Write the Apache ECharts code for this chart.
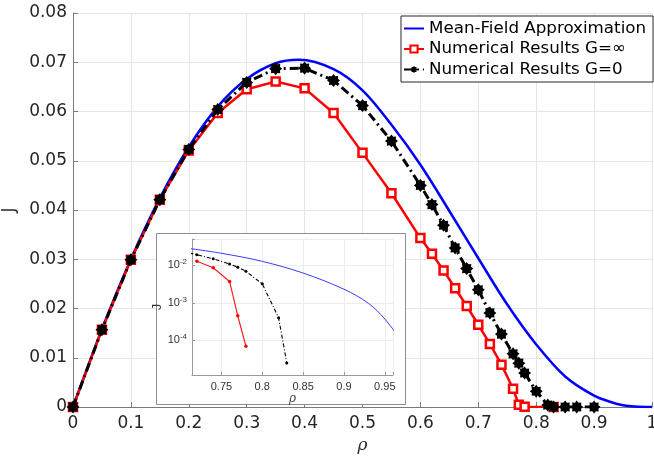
<!DOCTYPE html>
<html>
<head>
<meta charset="utf-8">
<script src="https://cdn.jsdelivr.net/npm/echarts@6/dist/echarts.min.js"></script>
<style>html,body{margin:0;padding:0;background:#fff}#c{width:654px;height:461px}</style>
</head>
<body>
<div id="c"></div>
<script>
// Mean-field approximation
const rhoMF = [0, 0.05, 0.1, 0.15, 0.2, 0.25, 0.3, 0.35, 0.39, 0.45, 0.5, 0.55, 0.6, 0.65, 0.7, 0.75, 0.8, 0.85, 0.9, 0.93, 0.95, 0.97, 1.0];
const jMF   = [0, 0.0158, 0.0300, 0.0424, 0.0528, 0.0610, 0.0666, 0.0698, 0.0705, 0.0686, 0.0643, 0.0573, 0.0492, 0.0398, 0.0302, 0.0208, 0.0127, 0.0062, 0.0023, 0.00097, 0.00037, 0.00010, 0];
// Numerical results G = infinity
const rhoInf = [0, 0.05, 0.1, 0.15, 0.2, 0.25, 0.3, 0.35, 0.4, 0.45, 0.5, 0.55, 0.6, 0.62, 0.64, 0.66, 0.68, 0.7, 0.72, 0.74, 0.76, 0.77, 0.78, 0.83];
const jInf   = [0, 0.0157, 0.0299, 0.0421, 0.0521, 0.0597, 0.0645, 0.0661, 0.0647, 0.0597, 0.0516, 0.0434, 0.0343, 0.0311, 0.0277, 0.0241, 0.0205, 0.0167, 0.0128, 0.0086, 0.0037, 0.00045, 0.00007, 0];
// Numerical results G = 0
const rhoG0 = [0, 0.05, 0.1, 0.15, 0.2, 0.25, 0.3, 0.35, 0.4, 0.45, 0.5, 0.55, 0.6, 0.62, 0.64, 0.66, 0.68, 0.7, 0.72, 0.74, 0.76, 0.77, 0.78, 0.8, 0.82, 0.83, 0.85, 0.87, 0.9];
const jG0   = [0, 0.0157, 0.0299, 0.0421, 0.0523, 0.0604, 0.0659, 0.0687, 0.0688, 0.0663, 0.0612, 0.0540, 0.0450, 0.0411, 0.0369, 0.0323, 0.0281, 0.0238, 0.0191, 0.0148, 0.0108, 0.0089, 0.0069, 0.0032, 0.0004, 0.000025, 0, 0, 0];

const names = ['Mean-Field Approximation', 'Numerical Results G=\u221e', 'Numerical Results G=0'];
const insetRhoMin = 0.714, insetRhoMax = 0.96;

function pairs(xs, ys) { return xs.map((x, i) => [x, ys[i]]); }
function posPairs(xs, ys) { return pairs(xs, ys).filter(p => p[1] > 0 && p[0] >= 0.7); }

function starPath(n, rIn) {
  let d = '';
  for (let i = 0; i < 2 * n; i++) {
    const r = i % 2 ? rIn : 1;
    const a = Math.PI * i / n - Math.PI / 2;
    d += (i ? 'L' : 'M') + (50 + 50 * r * Math.cos(a)).toFixed(2) + ' ' + (50 + 50 * r * Math.sin(a)).toFixed(2);
  }
  return 'path://' + d + 'Z';
}
const star = starPath(8, 0.72);

const tickColor = '#262626';
const axisGray = '#7a7a7a';
const gridGray = '#e6e6e6';
const mainFont = 'DejaVu Sans';
const insetFont = 'Liberation Sans';

const chart = echarts.init(document.getElementById('c'), null, {renderer: 'canvas'});
chart.setOption({
  animation: false,
  backgroundColor: '#fff',
  grid: [
    {left: 73, top: 13, width: 579, height: 394, containLabel: false, outerBoundsMode: 'none'},
    {left: 192, top: 239, width: 201, height: 136, z: 12, containLabel: false, outerBoundsMode: 'none'}
  ],
  legend: {
    data: [{name: names[0], itemStyle: {opacity: 0}}, {name: names[1]}, {name: names[2]}],
    orient: 'vertical',
    left: 401, top: 16,
    padding: [3, 7, 3, 2],
    itemWidth: 20, itemHeight: 9, itemGap: 1.5,
    backgroundColor: '#fff',
    borderColor: '#262626', borderWidth: 1, borderRadius: 0,
    textStyle: {fontFamily: mainFont, fontSize: 16.7, color: '#000', lineHeight: 19},
    z: 30
  },
  graphic: [{
    type: 'rect', z: 10, zlevel: 0,
    shape: {x: 156.5, y: 233.5, width: 249, height: 171},
    style: {fill: '#fff', stroke: '#8f8f8f', lineWidth: 1},
    silent: true
  }],
  xAxis: [
    {
      type: 'value', gridIndex: 0, min: 0, max: 1, interval: 0.1,
      name: '\u03c1', nameLocation: 'middle', nameGap: 30,
      nameTextStyle: {fontFamily: 'DejaVu Serif', fontStyle: 'italic', fontSize: 17, color: tickColor},
      axisLine: {show: true, onZero: false, lineStyle: {color: axisGray, width: 1}},
      axisTick: {show: true, inside: true, length: 5, lineStyle: {color: axisGray}},
      axisLabel: {fontFamily: mainFont, fontSize: 17, color: tickColor, margin: 8},
      splitLine: {show: true, lineStyle: {color: gridGray, width: 1}}
    },
    {
      type: 'value', gridIndex: 1, min: insetRhoMin, max: insetRhoMax, splitNumber: 5, z: 12,
      name: '\u03c1', nameLocation: 'middle', nameGap: 17,
      nameTextStyle: {fontFamily: 'DejaVu Serif', fontStyle: 'italic', fontSize: 12, color: '#444'},
      axisLine: {show: true, onZero: false, lineStyle: {color: '#9a9a9a', width: 1}},
      axisTick: {show: true, inside: true, length: 3, lineStyle: {color: '#9a9a9a'}},
      axisLabel: {fontFamily: insetFont, fontSize: 11, color: '#333', margin: 6,
        formatter: v => { const k = v / 0.05; return Math.abs(k - Math.round(k)) < 1e-6 ? String(+v.toFixed(2)) : ''; }},
      splitLine: {show: true, lineStyle: {color: '#ececec', width: 1}}
    }
  ],
  yAxis: [
    {
      type: 'value', gridIndex: 0, min: 0, max: 0.08, interval: 0.01,
      name: 'J', nameLocation: 'middle', nameGap: 54,
      nameTextStyle: {fontFamily: mainFont, fontSize: 17, color: tickColor},
      axisLine: {show: true, lineStyle: {color: axisGray, width: 1}},
      axisTick: {show: true, inside: true, length: 5, lineStyle: {color: axisGray}},
      axisLabel: {fontFamily: mainFont, fontSize: 17, color: tickColor, margin: 6},
      splitLine: {show: true, lineStyle: {color: gridGray, width: 1}}
    },
    {
      type: 'log', logBase: 10, gridIndex: 1, min: 1.2e-5, max: 0.05, z: 12,
      name: 'J', nameLocation: 'middle', nameGap: 20,
      nameTextStyle: {fontFamily: insetFont, fontSize: 13, color: '#333'},
      axisLine: {show: true, lineStyle: {color: '#9a9a9a', width: 1}},
      axisTick: {show: true, inside: true, length: 3, lineStyle: {color: '#9a9a9a'}},
      axisLabel: {
        margin: 5,
        formatter: v => {
          const l = Math.log10(v), e = Math.round(l);
          if (Math.abs(l - e) > 0.01 || e > -2 || e < -4) return '';
          return '{b|10}{s|' + e + '}';
        },
        rich: {
          b: {fontFamily: insetFont, fontSize: 11, color: '#333'},
          s: {fontFamily: insetFont, fontSize: 8, color: '#333', padding: [0, 0, 7, 0]}
        }
      },
      splitLine: {show: true, lineStyle: {color: '#ececec', width: 1}}
    }
  ],
  series: [
    {
      name: names[0], type: 'line', xAxisIndex: 0, yAxisIndex: 0, z: 2,
      data: pairs(rhoMF, jMF), smooth: 0.35, showSymbol: false, symbol: 'none',
      lineStyle: {color: '#0000ff', width: 2.5}, itemStyle: {color: '#0000ff'}
    },
    {
      name: names[1], type: 'line', xAxisIndex: 0, yAxisIndex: 0, z: 3,
      data: pairs(rhoInf, jInf), symbol: 'rect', symbolSize: 8,
      lineStyle: {color: '#ff0000', width: 2.5},
      itemStyle: {color: '#ffffff', borderColor: '#ff0000', borderWidth: 2.5}
    },
    {
      name: names[2], type: 'line', xAxisIndex: 0, yAxisIndex: 0, z: 4,
      data: pairs(rhoG0, jG0), symbol: star, symbolSize: 13,
      lineStyle: {color: '#000000', width: 3, type: [9, 4, 2, 4], cap: 'butt'},
      itemStyle: {color: '#000000'}
    },
    {
      name: 'inset-mf', type: 'line', xAxisIndex: 1, yAxisIndex: 1, z: 13,
      data: posPairs(rhoMF, jMF), smooth: 0.35, showSymbol: false, symbol: 'none', clip: true,
      lineStyle: {color: '#3b3bff', width: 1}
    },
    {
      name: 'inset-inf', type: 'line', xAxisIndex: 1, yAxisIndex: 1, z: 14,
      data: posPairs(rhoInf, jInf).filter(p => p[0] >= 0.72), symbol: 'circle', symbolSize: 3.5, clip: true,
      lineStyle: {color: '#ff2020', width: 1.2}, itemStyle: {color: '#ff0000'}
    },
    {
      name: 'inset-g0', type: 'line', xAxisIndex: 1, yAxisIndex: 1, z: 15,
      data: posPairs(rhoG0, jG0), symbol: 'circle', symbolSize: 3, clip: true,
      lineStyle: {color: '#000000', width: 1.1, type: [4, 2, 1, 2]}, itemStyle: {color: '#000'}
    }
  ]
});
</script>
</body>
</html>
